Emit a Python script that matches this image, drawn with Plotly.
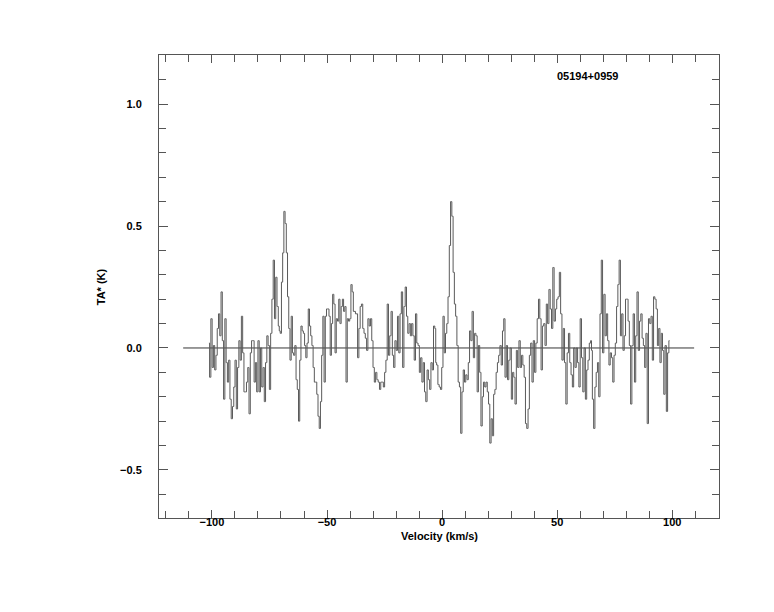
import numpy as np
import plotly.graph_objects as go

# ---- data (TA* in K), in six velocity segments ----
seg1_range = (-101.3, -70.9)
seg1 = [0.02, -0.12, 0.12, -0.08, 0.01, -0.09, -0.03, 0.08, 0.14, 0.05, 0.23, 0.03,
        -0.21, 0.12, -0.06, -0.14, -0.05, -0.21, -0.29, -0.24, -0.16, -0.05, -0.25,
        -0.08, 0.03, -0.05, 0.13, -0.02, -0.18, -0.18, -0.14, -0.08, -0.27, -0.02,
        0.03, 0.03, -0.14, -0.06, -0.18, 0.03, -0.18, 0.0, -0.16, -0.08, -0.22,
        -0.06, 0.05, 0.01, -0.17, 0.06, 0.20, 0.36, 0.12, 0.29, 0.17, 0.09]

seg2_range = (-70.6, -38.3)
seg2 = [0.07, 0.06, 0.27, 0.39, 0.56, 0.51, 0.39, 0.21, 0.08, -0.05, 0.13, -0.02,
        -0.03, 0.01, -0.13, -0.17, -0.30, -0.05, 0.09, 0.07, 0.06, 0.01, -0.04,
        0.02, 0.16, 0.09, 0.05, 0.01, -0.08, -0.14, -0.14, -0.19, -0.28, -0.33,
        -0.22, -0.03, 0.13, -0.14, 0.13, 0.16, 0.16, 0.13, -0.03, 0.10, 0.22,
        0.18, -0.02, 0.12, 0.11, 0.20, 0.10, 0.17, 0.20, 0.15, 0.17, -0.14, 0.12,
        0.11, 0.12, 0.26, 0.23, 0.15]

seg3_range = (-37.0, -2.9)
seg3 = [0.14, -0.04, 0.08, 0.17, 0.18, 0.08, 0.06, 0.04, -0.01, 0.12, 0.09, 0.12,
        0.03, -0.08, -0.14, -0.10, -0.13, -0.14, -0.17, -0.14, -0.14, -0.16, -0.10,
        -0.05, 0.18, -0.03, 0.05, 0.15, -0.03, -0.08, 0.03, -0.01, 0.13, -0.02,
        0.14, 0.23, -0.08, 0.17, 0.25, 0.13, 0.06, 0.10, 0.05, 0.10, 0.05, -0.05,
        0.14, 0.02, 0.01, -0.10, -0.04, -0.14, -0.06, -0.18, -0.22, -0.09, -0.13,
        -0.17, -0.06, -0.09, 0.09, 0.08]

seg4_range = (-2.65, 30.9)
seg4 = [-0.06, -0.07, -0.15, -0.16, -0.17, -0.08, 0.13, -0.02, 0.06, 0.10, 0.21,
        0.42, 0.60, 0.54, 0.31, 0.18, 0.13, 0.01, -0.14, -0.16, -0.35, -0.18, -0.09,
        -0.14, -0.11, -0.13, -0.06, 0.07, 0.03, 0.15, -0.04, 0.06, 0.05, -0.18,
        0.01, -0.10, -0.32, -0.20, -0.14, -0.16, -0.14, -0.18, -0.23, -0.39, -0.29,
        -0.36, -0.19, -0.17, -0.10, -0.06, -0.03, 0.01, -0.07, 0.07, 0.12, -0.12,
        0.01, -0.13, -0.05, 0.0, -0.21, -0.10]

seg5_range = (31.4, 64.8)
seg5 = [-0.12, -0.23, -0.01, -0.08, 0.03, -0.08, -0.03, -0.07, -0.12, -0.31, -0.33,
        -0.25, -0.03, 0.02, -0.14, 0.03, -0.10, 0.02, 0.12, 0.20, 0.12, -0.09, 0.09,
        0.10, 0.01, 0.18, 0.10, 0.24, 0.16, 0.08, 0.33, 0.11, 0.16, 0.20, 0.21,
        0.31, 0.14, -0.05, 0.08, -0.06, -0.23, -0.02, 0.06, -0.06, -0.11, -0.16,
        0.0, -0.08, 0.0, -0.06, -0.16, 0.12, -0.04, -0.18, 0.0, -0.21, -0.09,
        -0.05, 0.02, 0.03]

seg6_range = (65.0, 98.8)
seg6 = [-0.01, -0.21, -0.33, -0.16, -0.10, -0.06, -0.20, 0.14, 0.36, -0.02, 0.22,
        0.05, 0.14, 0.03, -0.07, -0.02, -0.04, -0.14, -0.03, 0.02, 0.17, 0.26, 0.36,
        0.05, 0.14, -0.01, 0.05, 0.20, 0.20, 0.11, 0.01, -0.23, 0.01, 0.14, -0.14,
        0.05, 0.23, -0.01, 0.11, 0.14, 0.04, 0.01, -0.08, 0.06, -0.31, 0.12, 0.10,
        0.13, -0.05, 0.21, 0.20, 0.16, 0.01, 0.08, -0.06, 0.06, -0.01, -0.19, 0.01,
        -0.26, -0.02, 0.03]

baseline_x = [-112.5, 109.5]
source_name = "05194+0959"

segments = [(seg1_range, seg1), (seg2_range, seg2), (seg3_range, seg3),
            (seg4_range, seg4), (seg5_range, seg5), (seg6_range, seg6)]
vel = np.concatenate([np.linspace(r[0], r[1], len(v)) for r, v in segments])
ta = np.concatenate([np.array(v, dtype=float) for r, v in segments])

fig = go.Figure()
fig.add_trace(go.Scatter(x=baseline_x, y=[0, 0], mode="lines",
                         line=dict(color="#000000", width=0.8), hoverinfo="skip"))
fig.add_trace(go.Scatter(x=vel, y=ta, mode="lines", line_shape="hvh",
                         line=dict(color="#5a5a5a", width=1)))

font_b = dict(family="Liberation Sans, Arial, sans-serif", size=11, color="#000", weight="bold")

fig.update_layout(
    width=774, height=612,
    margin=dict(l=151, r=63, t=47, b=102),
    paper_bgcolor="white", plot_bgcolor="white",
    showlegend=False,
    xaxis=dict(range=[-123, 120.3], showgrid=False, zeroline=False,
               showline=True, linecolor="#555", linewidth=1, mirror="ticks",
               ticks="inside", ticklen=8, tickcolor="#555", dtick=50, tick0=0,
               tickfont=font_b, ticklabelstandoff=-6,
               minor=dict(dtick=10, tick0=0, ticks="inside", ticklen=7, tickcolor="#555")),
    yaxis=dict(range=[-0.697, 1.201], showgrid=False, zeroline=False,
               showline=True, linecolor="#555", linewidth=1, mirror="ticks",
               ticks="inside", ticklen=9, tickcolor="#555", dtick=0.5, tick0=0,
               tickformat=".1f", tickfont=font_b, ticklabelstandoff=14,
               minor=dict(dtick=0.1, tick0=0, ticks="inside", ticklen=7, tickcolor="#555")),
    annotations=[
        dict(text=source_name, xref="paper", yref="paper", x=0.766, y=0.955,
             xanchor="center", yanchor="middle", showarrow=False, font=font_b),
        dict(text="Velocity (km/s)", xref="paper", yref="paper", x=0.5, y=-0.039,
             xanchor="center", yanchor="middle", showarrow=False, font=font_b),
        dict(text="TA* (K)", xref="paper", yref="paper", x=-0.104, y=0.5,
             xanchor="center", yanchor="middle",
             textangle=-90, showarrow=False, font=font_b),
    ],
)

fig.write_html("out.html")
